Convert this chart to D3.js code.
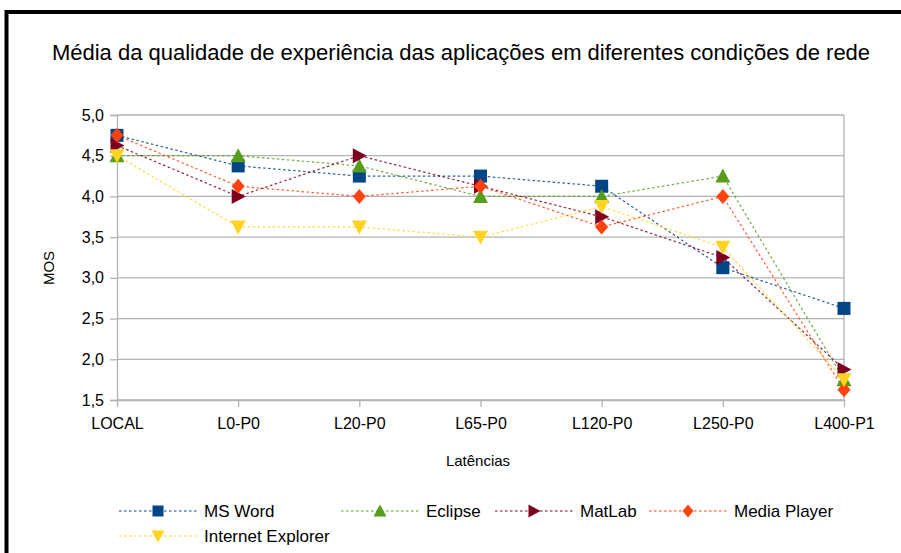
<!DOCTYPE html>
<html><head><meta charset="utf-8">
<script src="https://cdn.jsdelivr.net/npm/d3@7"></script>
<style>body{margin:0;background:#fff;} svg{display:block;font-family:"Liberation Sans",Arial,sans-serif;}</style>
</head><body>
<svg id="c" width="901" height="553"></svg>
<script>
const categories = ["LOCAL","L0-P0","L20-P0","L65-P0","L120-P0","L250-P0","L400-P1"];
const msWord      = [4.75, 4.375, 4.25, 4.25, 4.125, 3.125, 2.625];
const eclipse     = [4.5, 4.5, 4.375, 4.0, 4.0, 4.25, 1.75];
const matLab      = [4.625, 4.0, 4.5, 4.125, 3.75, 3.25, 1.875];
const mediaPlayer = [4.75, 4.125, 4.0, 4.125, 3.625, 4.0, 1.625];
const ieValues    = [4.5, 3.625, 3.625, 3.5, 3.875, 3.375, 1.75];
const yTicks = [1.5,2.0,2.5,3.0,3.5,4.0,4.5,5.0];
const seriesNames = ["MS Word","Eclipse","MatLab","Media Player","Internet Explorer"];
const seriesColors = ["#004586","#579d1c","#7e0021","#ff420e","#ffd320"];
const seriesShapes = ["square","up","right","diamond","down"];
const seriesData = [msWord, eclipse, matLab, mediaPlayer, ieValues];

const svg = d3.select("#c");
const L = 117, R = 844, T = 115, B = 400;
const x = d3.scalePoint().domain(categories).range([L, R]);
const y = d3.scaleLinear().domain([1.5, 5]).range([B, T]);

// frame
svg.append("rect").attr("x",6.5).attr("y",12).attr("width",1000).attr("height",1000)
  .attr("fill","none").attr("stroke","#000").attr("stroke-width",4);

// title
svg.append("text").attr("x",461).attr("y",60).attr("text-anchor","middle")
  .attr("font-size",22).attr("fill","#000")
  .text("Média da qualidade de experiência das aplicações em diferentes condições de rede");

// gridlines
svg.append("g").selectAll("line").data(yTicks).join("line")
  .attr("x1",L).attr("x2",R).attr("y1",d=>y(d)).attr("y2",d=>y(d))
  .attr("stroke","#b3b3b3").attr("stroke-width",1.3);
svg.append("line").attr("x1",R).attr("x2",R).attr("y1",T).attr("y2",B).attr("stroke","#b3b3b3").attr("stroke-width",1.3);

// y axis
const yAxis = d3.axisLeft(y).tickValues(yTicks).tickSize(7).tickPadding(6)
  .tickFormat(d=>d3.format(".1f")(d).replace(".",","));
const gy = svg.append("g").attr("transform",`translate(${L},0)`).call(yAxis);
gy.select(".domain").attr("stroke","#b3b3b3").attr("stroke-width",1.3);
gy.selectAll(".tick line").attr("stroke","#b3b3b3").attr("stroke-width",1.3);
gy.selectAll(".tick text").attr("font-size",16).attr("fill","#000").attr("font-family","Liberation Sans, Arial, sans-serif");

// x axis
const xAxis = d3.axisBottom(x).tickSize(7).tickPadding(11).tickSizeOuter(0);
const gx = svg.append("g").attr("transform",`translate(0,${B})`).call(xAxis);
gx.select(".domain").attr("stroke","#b3b3b3").attr("stroke-width",1.3);
gx.selectAll(".tick line").attr("stroke","#b3b3b3").attr("stroke-width",1.3);
gx.selectAll(".tick text").attr("font-size",16).attr("fill","#000").attr("font-family","Liberation Sans, Arial, sans-serif");

// axis titles
svg.append("text").attr("x",478).attr("y",466).attr("text-anchor","middle").attr("font-size",15).text("Latências");
svg.append("text").attr("transform","translate(54,268) rotate(-90)").attr("text-anchor","middle").attr("font-size",15).text("MOS");

function shapePath(shape, s){
  const h = s/2;
  switch(shape){
    case "square": return `M${-h},${-h}H${h}V${h}H${-h}Z`;
    case "up": return `M0,${-h-1}L${h+1},${h}L${-h-1},${h}Z`;
    case "down": return `M0,${h+1}L${h+1},${-h}L${-h-1},${-h}Z`;
    case "right": return `M${h+1},0L${-h},${h+1}L${-h},${-h-1}Z`;
    case "diamond": return `M0,${-h-1}L${h},0L0,${h+1}L${-h},0Z`;
  }
}

const line = d3.line().x((d,i)=>x(categories[i])).y(d=>y(d));
seriesData.forEach((vals,si)=>{
  svg.append("path").datum(vals).attr("d",line).attr("fill","none")
    .attr("stroke",seriesColors[si]).attr("stroke-width",1.2).attr("stroke-dasharray","2.5,2.5").attr("opacity",0.85);
});
seriesData.forEach((vals,si)=>{
  svg.append("g").selectAll("path").data(vals).join("path")
    .attr("transform",(d,i)=>`translate(${x(categories[i])},${y(d)})`)
    .attr("d",shapePath(seriesShapes[si],13)).attr("fill",seriesColors[si]);
});

// legend
const legendPos = [[119,511],[341,511],[495,511],[649,511],[119,536]];
seriesNames.forEach((n,si)=>{
  const [lx,ly] = legendPos[si];
  const g = svg.append("g").attr("transform",`translate(${lx},${ly})`);
  g.append("line").attr("x1",0).attr("x2",78).attr("y1",0).attr("y2",0)
    .attr("stroke",seriesColors[si]).attr("stroke-width",1.2).attr("stroke-dasharray","2.5,2.5");
  g.append("path").attr("transform","translate(39,0)").attr("d",shapePath(seriesShapes[si],11)).attr("fill",seriesColors[si]);
  g.append("text").attr("x",85).attr("y",6).attr("font-size",17).text(n);
});
</script>
</body></html>
